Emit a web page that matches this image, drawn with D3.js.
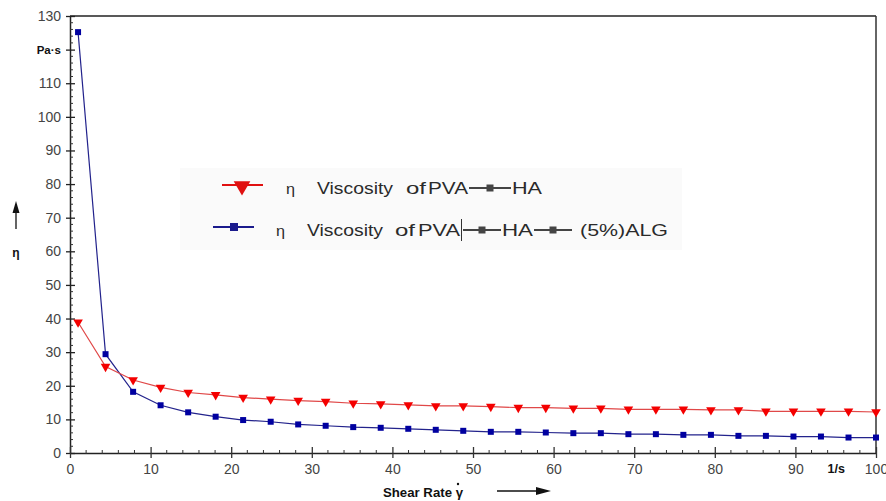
<!DOCTYPE html>
<html>
<head>
<meta charset="utf-8">
<title>Viscosity vs shear rate</title>
<style>
  body, html { margin:0px; background:#fff; }
  svg text { font-family: "Liberation Sans", Arial, sans-serif; }
</style>
<script src="https://cdn.jsdelivr.net/npm/d3@7"></script>
</head>
<body>
<svg id="chart" width="886" height="501"></svg>
<script>
// shear rate (1/s)
var shearRate = [1, 4.41, 7.83, 11.24, 14.66, 18.07, 21.48, 24.9, 28.31, 31.72,
                 35.14, 38.55, 41.97, 45.38, 48.79, 52.21, 55.62, 59.03, 62.45, 65.86,
                 69.28, 72.69, 76.1, 79.52, 82.93, 86.34, 89.76, 93.17, 96.59, 100];
// viscosity of PVA-HA (Pa.s)
var viscPvaHa = [38.9, 25.7, 21.7, 19.5, 18.0, 17.3, 16.5, 16.0, 15.6, 15.3,
                 14.8, 14.6, 14.3, 14.0, 14.0, 13.8, 13.5, 13.5, 13.3, 13.3,
                 13.0, 13.0, 13.0, 12.8, 12.8, 12.4, 12.4, 12.4, 12.4, 12.2];
// viscosity of PVA-HA-(5%)ALG (Pa.s)
var viscPvaHaAlg = [125.2, 29.4, 18.2, 14.2, 12.1, 10.8, 9.8, 9.3, 8.5, 8.1,
                    7.7, 7.5, 7.2, 6.9, 6.6, 6.3, 6.3, 6.1, 5.9, 5.9,
                    5.6, 5.6, 5.4, 5.4, 5.1, 5.1, 4.9, 4.9, 4.6, 4.6];

var xTicks = [0, 10, 20, 30, 40, 50, 60, 70, 80, 90, 95, 100];
var xTickLabels = ["0", "10", "20", "30", "40", "50", "60", "70", "80", "90", "1/s", "100"];
var yTicks = [0, 10, 20, 30, 40, 50, 60, 70, 80, 90, 100, 110, 120, 130];
var yTickLabels = ["0", "10", "20", "30", "40", "50", "60", "70", "80", "90", "100", "110", "Pa\u00b7s", "130"];

var svg = d3.select('#chart');
var x = d3.scaleLinear().domain([0, 100]).range([70, 876]);
var y = d3.scaleLinear().domain([0, 130]).range([453, 16]);

// legend background
svg.append('rect').attr('x', 180).attr('y', 168).attr('width', 502).attr('height', 82)
  .attr('fill', '#fafafa');

// frame (top + right)
svg.append('line').attr('x1', x(0)).attr('x2', x(100)).attr('y1', y(130)).attr('y2', y(130))
  .attr('stroke', '#222').attr('stroke-width', 1.5);
svg.append('line').attr('x1', x(100)).attr('x2', x(100)).attr('y1', y(130)).attr('y2', y(0))
  .attr('stroke', '#333').attr('stroke-width', 1.5);

// y axis
var yMinor = d3.range(0, 131, 2).filter(function(d){ return d % 10 != 0; });
var yAxisMajor = d3.axisLeft(y).tickValues(yTicks).tickSizeInner(0).tickSizeOuter(0)
  .tickFormat(function(d, i){ return yTickLabels[i]; });
var gy = svg.append('g').attr('transform', 'translate(' + x(0) + ',0)').call(yAxisMajor);
gy.select('.domain').attr('stroke', '#222').attr('stroke-width', 1.5);
gy.selectAll('.tick line').remove();
gy.selectAll('.tick').append('line').attr('x1', -4).attr('x2', 5).attr('stroke', '#222').attr('stroke-width', 1.3);
gy.selectAll('.tick text').attr('x', -9).attr('fill', '#444').style('font-size', '14px')
  .style('font-family', '"Liberation Sans", Arial, sans-serif')
  .each(function(d){
    if (d === 120) d3.select(this).attr('fill', '#111').style('font-weight', 'bold').style('font-size', '11.5px');
  });
gy.selectAll('.minor').data(yMinor).enter().append('line')
  .attr('x1', 0).attr('x2', 3).attr('y1', function(d){ return y(d); }).attr('y2', function(d){ return y(d); })
  .attr('stroke', '#333').attr('stroke-width', 1);

// x axis
var xMinor = d3.range(0, 101, 2).filter(function(d){ return d % 10 != 0; });
var xAxisMajor = d3.axisBottom(x).tickValues(xTicks).tickSizeInner(0).tickSizeOuter(0)
  .tickFormat(function(d, i){ return xTickLabels[i]; });
var gx = svg.append('g').attr('transform', 'translate(0,' + y(0) + ')').call(xAxisMajor);
gx.select('.domain').attr('stroke', '#222').attr('stroke-width', 1.5);
gx.selectAll('.tick line').remove();
gx.selectAll('.tick').filter(function(d){ return d % 10 == 0; })
  .append('line').attr('y1', -6).attr('y2', 5).attr('stroke', '#333').attr('stroke-width', 1.3);
gx.selectAll('.tick text').attr('y', 11).attr('dy', '0.71em').attr('fill', '#444').style('font-size', '14px')
  .style('font-family', '"Liberation Sans", Arial, sans-serif')
  .each(function(d){
    if (d === 95) d3.select(this).attr('fill', '#111').style('font-weight', 'bold').style('font-size', '12.5px');
  });
gx.selectAll('.minor').data(xMinor).enter().append('line')
  .attr('x1', function(d){ return x(d); }).attr('x2', function(d){ return x(d); })
  .attr('y1', -3).attr('y2', 1).attr('stroke', '#333').attr('stroke-width', 1);

// series
var line = d3.line().x(function(d){ return x(d[0]); }).y(function(d){ return y(d[1]); });
var blueData = d3.zip(shearRate, viscPvaHaAlg);
var redData = d3.zip(shearRate, viscPvaHa);

svg.append('path').datum(blueData).attr('d', line).attr('fill', 'none')
  .attr('stroke', '#23238c').attr('stroke-width', 1.2);
svg.append('path').datum(redData).attr('d', line).attr('fill', 'none')
  .attr('stroke', '#e04848').attr('stroke-width', 1.2);

svg.selectAll('.sq').data(blueData).enter().append('rect')
  .attr('x', function(d){ return x(d[0]) - 3; }).attr('y', function(d){ return y(d[1]) - 3; })
  .attr('width', 6).attr('height', 6).attr('fill', '#0000a0');

var tri = d3.symbol().type(d3.symbolTriangle).size(40);
svg.selectAll('.tri').data(redData).enter().append('path')
  .attr('d', tri)
  .attr('transform', function(d){ return 'translate(' + x(d[0]) + ',' + y(d[1]) + ') rotate(180)'; })
  .attr('fill', '#f40000');

// legend
function word(tx, ty, str, len, size) {
  svg.append('text').attr('x', tx).attr('y', ty).text(str)
    .attr('textLength', len).attr('lengthAdjust', 'spacingAndGlyphs')
    .attr('fill', '#2a2a2a').style('font-size', (size || 16.5) + 'px');
}
function link(x1, x2, ly) {
  svg.append('line').attr('x1', x1).attr('x2', x2).attr('y1', ly).attr('y2', ly)
    .attr('stroke', '#444').attr('stroke-width', 2);
  svg.append('rect').attr('x', (x1 + x2) / 2 - 3.5).attr('y', ly - 3.5).attr('width', 7).attr('height', 7)
    .attr('fill', '#444');
}
// entry 1
svg.append('line').attr('x1', 222).attr('x2', 263).attr('y1', 185).attr('y2', 185)
  .attr('stroke', '#e01010').attr('stroke-width', 2);
svg.append('path').attr('d', d3.symbol().type(d3.symbolTriangle).size(120))
  .attr('transform', 'translate(242,186) rotate(180)').attr('fill', '#e01010');
word(286, 194, '\u03b7', 9, 15);
word(317, 194, 'Viscosity', 76);
word(406, 194, 'of', 20);
word(428, 194, 'PVA', 40);
link(469, 511, 188);
word(512, 194, 'HA', 30);
// entry 2
svg.append('line').attr('x1', 213).attr('x2', 254).attr('y1', 227).attr('y2', 227)
  .attr('stroke', '#1a1a8c').attr('stroke-width', 2);
svg.append('rect').attr('x', 230).attr('y', 223).attr('width', 8).attr('height', 8).attr('fill', '#1a1a8c');
word(276, 236, '\u03b7', 9, 15);
word(307, 236, 'Viscosity', 76);
word(395, 236, 'of', 20);
word(418, 236, 'PVA', 42);
svg.append('line').attr('x1', 461.5).attr('x2', 461.5).attr('y1', 219).attr('y2', 241)
  .attr('stroke', '#333').attr('stroke-width', 1);
link(463, 501, 230);
word(502, 236, 'HA', 31);
link(534, 572, 230);
word(580, 236, '(5%)ALG', 88);

// axis titles
svg.append('text').attr('x', 383).attr('y', 497).text('Shear Rate \u03b3')
  .attr('textLength', 80).attr('lengthAdjust', 'spacingAndGlyphs')
  .attr('fill', '#111').style('font-size', '13px').style('font-weight', 'bold');
svg.append('circle').attr('cx', 458).attr('cy', 484).attr('r', 1.2).attr('fill', '#111');
svg.append('line').attr('x1', 497).attr('x2', 538).attr('y1', 491).attr('y2', 491)
  .attr('stroke', '#111').attr('stroke-width', 1.3);
svg.append('path').attr('d', 'M536,487 L551,491 L536,495 Z').attr('fill', '#111');

svg.append('line').attr('x1', 16).attr('x2', 16).attr('y1', 229).attr('y2', 210)
  .attr('stroke', '#111').attr('stroke-width', 1.3);
svg.append('path').attr('d', 'M12.5,213 L16,201 L19.5,213 Z').attr('fill', '#111');
svg.append('text').attr('x', 16).attr('y', 257).attr('text-anchor', 'middle').text('\u03b7')
  .attr('fill', '#111').style('font-size', '12px').style('font-weight', 'bold');
</script>
</body>
</html>
